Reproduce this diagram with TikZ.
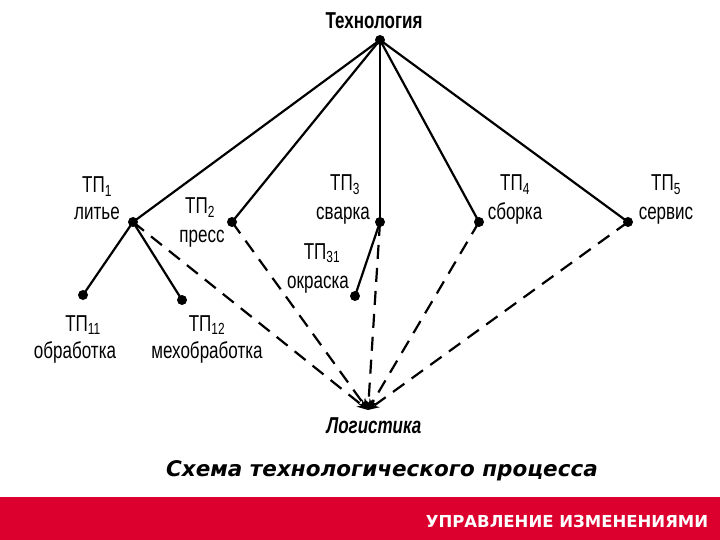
\documentclass[tikz,border=0pt]{standalone}
\usepackage{fontspec}
\setmainfont{Liberation Sans}
\newfontfamily\narrowf[FakeStretch=0.74]{Liberation Sans}
\newfontfamily\capf{DejaVu Sans}
\usetikzlibrary{arrows.meta}
\definecolor{bandred}{RGB}{220,0,46}
\begin{document}
\begin{tikzpicture}[x=1pt,y=-1pt,
  dot/.style={circle,fill=black,inner sep=0pt,minimum size=10pt},
  lbl/.style={font=\narrowf\fontsize{23}{25}\selectfont,inner sep=0pt,anchor=base},
  solidline/.style={line width=2.2pt},
  dashline/.style={line width=2.2pt,dash pattern=on 14pt off 9pt,-{Stealth[length=11pt,width=9pt]}}]
\useasboundingbox (0,0) rectangle (720,540);
% band
\fill[bandred] (0,497) rectangle (720,540);
\node[font=\capf\bfseries\fontsize{16.5}{18}\selectfont,text=white,anchor=base] (band) at (567,527) {УПРАВЛЕНИЕ ИЗМЕНЕНИЯМИ};
% dots
\node[dot] (tech) at (380,40) {};
\node[dot] (tp1) at (133,222) {};
\node[dot] (tp2) at (232,222) {};
\node[dot] (tp3) at (380,222) {};
\node[dot] (tp31) at (355,296) {};
\node[dot] (tp4) at (479,222) {};
\node[dot] (tp5) at (628,222) {};
\node[dot] (tp11) at (83,295) {};
\node[dot] (tp12) at (182,300) {};
\coordinate (log) at (368,410);
% labels
\node[lbl,font=\narrowf\bfseries\fontsize{23}{25}\selectfont] (ttech) at (374,29) {Технология};
\node[lbl] (l1a) at (97,193) {ТП\textsubscript{1}};
\node[lbl] (l1b) at (97,220) {литье};
\node[lbl] (l2a) at (200,214) {ТП\textsubscript{2}};
\node[lbl] (l2b) at (202,243) {пресс};
\node[lbl] (l3a) at (345,191) {ТП\textsubscript{3}};
\node[lbl] (l3b) at (343,220) {сварка};
\node[lbl] (l31a) at (322,259) {ТП\textsubscript{31}};
\node[lbl] (l31b) at (318,288) {окраска};
\node[lbl] (l4a) at (515,191) {ТП\textsubscript{4}};
\node[lbl] (l4b) at (515,220) {сборка};
\node[lbl] (l5a) at (666,191) {ТП\textsubscript{5}};
\node[lbl] (l5b) at (666,220) {сервис};
\node[lbl] (l11a) at (83,331) {ТП\textsubscript{11}};
\node[lbl] (l11b) at (75,358) {обработка};
\node[lbl] (l12a) at (207,331) {ТП\textsubscript{12}};
\node[lbl] (l12b) at (207,358) {мехобработка};
\node[lbl,font=\narrowf\bfseries\itshape\fontsize{23}{25}\selectfont] (tlog) at (374,433) {Логистика};
\node[font=\capf\bfseries\itshape\fontsize{21.5}{23}\selectfont,anchor=base,inner sep=0pt] (cap) at (382,476) {Схема технологического процесса};
% solid lines
\draw[solidline] (tech.center) -- (tp1.center);
\draw[solidline] (tech.center) -- (tp2.center);
\draw[solidline] (tech.center) -- (tp3.center);
\draw[solidline] (tech.center) -- (tp4.center);
\draw[solidline] (tech.center) -- (tp5.center);
\draw[solidline] (tp1.center) -- (tp11.center);
\draw[solidline] (tp1.center) -- (tp12.center);
\draw[solidline] (tp3.center) -- (tp31.center);
% dashed arrows
\draw[dashline] (tp1.center) -- (log);
\draw[dashline] (tp2.center) -- (log);
\draw[dashline] (tp3.center) -- (log);
\draw[dashline] (tp4.center) -- (log);
\draw[dashline] (tp5.center) -- (log);
\end{tikzpicture}
\end{document}
